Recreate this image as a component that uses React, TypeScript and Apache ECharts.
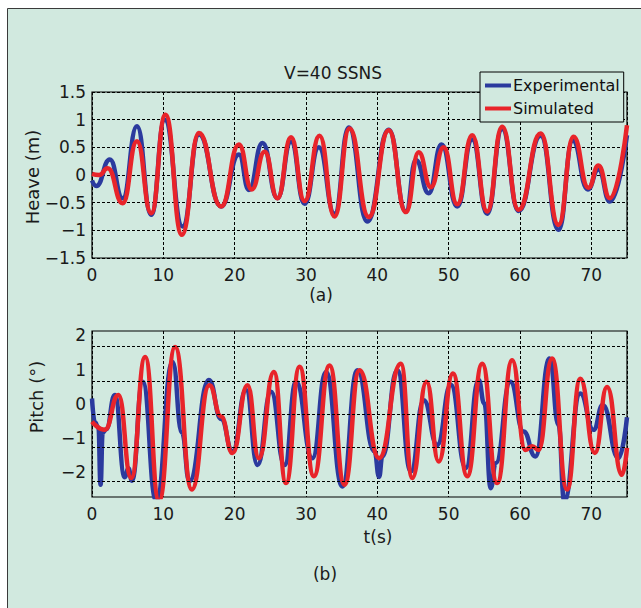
import React, { useEffect, useRef } from "react";
import * as echarts from "echarts";

// ---------- data ----------
const heaveExpT = [0, 0.6, 2.5, 4.3, 6.3, 8.3, 10.2, 12.7, 15.0, 18.1, 20.6, 22.0, 23.9, 26.0, 27.9, 29.8, 31.8, 34.0, 36.0, 38.6, 41.6, 44.0, 45.4, 47.2, 49.0, 51.2, 53.3, 55.4, 57.5, 59.8, 62.9, 65.4, 67.4, 69.5, 71.0, 72.6, 75];
const heaveExpV = [-0.1, -0.2, 0.28, -0.42, 0.88, -0.72, 1.0, -0.93, 0.73, -0.57, 0.37, -0.27, 0.58, -0.42, 0.6, -0.52, 0.5, -0.7, 0.86, -0.84, 0.82, -0.66, 0.27, -0.33, 0.55, -0.57, 0.64, -0.7, 0.83, -0.65, 0.71, -0.99, 0.62, -0.26, 0.1, -0.48, 0.72];

const heaveSimT = [0, 1.0, 2.2, 4.3, 6.3, 8.3, 10.3, 12.6, 15.0, 18.1, 20.6, 22.4, 24.2, 26.0, 27.9, 29.8, 31.9, 34.0, 36.1, 38.8, 41.6, 44.0, 45.8, 47.5, 49.3, 51.2, 53.3, 55.4, 57.5, 59.8, 62.9, 65.4, 67.5, 69.6, 71.0, 72.6, 75];
const heaveSimV = [0.02, 0.0, 0.12, -0.51, 0.61, -0.69, 1.09, -1.08, 0.76, -0.57, 0.55, -0.26, 0.42, -0.42, 0.68, -0.47, 0.71, -0.75, 0.84, -0.76, 0.81, -0.67, 0.41, -0.22, 0.5, -0.53, 0.72, -0.66, 0.87, -0.63, 0.75, -0.9, 0.69, -0.23, 0.17, -0.42, 0.9];

const pitchExpT = [0, 0.4, 0.9, 1.2, 1.5, 2.0, 3.2, 4.6, 5.1, 5.6, 7.1, 9.0, 11.3, 12.6, 13.65, 16.4, 18.1, 19.7, 21.6, 23.2, 25.1, 27.0, 28.6, 30.9, 32.8, 35.1, 37.2, 39.6, 40.25, 40.7, 42.8, 44.7, 46.5, 48.4, 50.3, 52.4, 54.2, 55.0, 55.9, 56.6, 58.65, 60.5, 62.15, 64.15, 65.4, 66.2, 68.45, 70.3, 71.6, 73.8, 75];
const pitchExpV = [0.15, -0.55, -0.7, -2.38, -0.85, -0.75, 0.25, -2.16, -1.9, -2.26, 0.64, -2.85, 1.22, -0.85, -2.28, 0.69, -0.45, -1.4, 0.4, -1.8, 0.35, -1.8, 0.64, -1.6, 0.93, -2.43, 0.98, -1.4, -2.15, -1.55, 0.98, -1.99, 0.1, -1.21, 0.55, -1.89, 0.69, 0.0, -2.48, -1.75, 0.64, -0.82, -1.55, 1.32, -0.63, -2.85, 0.3, -0.77, -0.04, -1.6, -0.4];

const pitchSimT = [0, 1.8, 3.7, 5.5, 7.45, 9.4, 11.65, 14.0, 16.45, 18.1, 19.7, 21.8, 23.4, 25.5, 27.2, 29.1, 31.1, 33.3, 35.4, 37.5, 40.25, 43.3, 44.9, 46.9, 48.6, 50.6, 52.6, 54.7, 56.8, 58.9, 60.75, 61.7, 62.6, 64.5, 66.6, 68.45, 70.5, 72.2, 74.3, 75];
const pitchSimV = [-0.53, -0.77, 0.25, -2.18, 1.37, -2.85, 1.66, -2.52, 0.54, -0.38, -1.45, 0.54, -1.6, 0.93, -2.33, 1.08, -2.13, 1.12, -2.38, 0.98, -1.6, 1.17, -2.18, 0.64, -1.7, 0.88, -2.13, 1.17, -2.33, 1.27, -1.36, -1.25, -1.36, 1.32, -2.52, 0.73, -1.45, 0.49, -2.09, -1.3];

// dashed grid lines of the pitch panel (drawn offset from its tick labels in the reference)
const pitchGridLines = [1.68, 0.66, -0.32, -1.27, -2.27];

const seriesNames = ["Experimental", "Simulated"];
const titleText = "V=40 SSNS";
const heaveLabel = "Heave (m)";
const pitchLabel = "Pitch (°)";
const timeLabel = "t(s)";
const panelA = "(a)";
const panelB = "(b)";

// ---------- styling ----------
const BLUE = "#2b3a9e";
const RED = "#e8242a";
const MINT = "#d1e9df";
const FONT = "DejaVu Sans";
const GRID_DASH = [3, 2];

const zip = (t: number[], v: number[]) => t.map((x, i) => [x, v[i]]);
const fmtNum = (v: number) => {
  const r = Math.round(v * 100) / 100;
  return String(r).replace("-", "\u2212");
};

export default function App() {
  const ref = useRef<HTMLDivElement>(null);
  useEffect(() => {
    if (!ref.current) return;
    const chart = echarts.init(ref.current, undefined, { renderer: "svg" });
    const axisLabelStyle = { color: "#1a1a1a", fontSize: 17, fontFamily: FONT };
    const splitDashed = { show: true, lineStyle: { color: "#000", type: GRID_DASH, width: 1 } };
    const lineCommon = {
      type: "line" as const,
      symbol: "none",
      showSymbol: false,
      smooth: 0.5,
      smoothMonotone: "x" as const,
      clip: true,
    };
    chart.setOption({
      animation: false,
      backgroundColor: "#ffffff",
      textStyle: { fontFamily: FONT },
      graphic: [
        {
          type: "rect",
          z: -10,
          silent: true,
          shape: { x: 7.5, y: 8.5, width: 720, height: 720 },
          style: { fill: MINT, stroke: "#3a3a3a", lineWidth: 1 },
        },
        {
          type: "text", z: 10, x: 333, y: 73,
          style: { text: titleText, font: `17px ${FONT}`, fill: "#1a1a1a", align: "center", verticalAlign: "middle" },
        },
        {
          type: "text", z: 10, x: 32, y: 177, rotation: Math.PI / 2,
          style: { text: heaveLabel, font: `18px ${FONT}`, fill: "#1a1a1a", align: "center", verticalAlign: "middle" },
        },
        {
          type: "text", z: 10, x: 36, y: 397, rotation: Math.PI / 2,
          style: { text: pitchLabel, font: `18px ${FONT}`, fill: "#1a1a1a", align: "center", verticalAlign: "middle" },
        },
        {
          type: "text", z: 10, x: 321, y: 295,
          style: { text: panelA, font: `17px ${FONT}`, fill: "#1a1a1a", align: "center", verticalAlign: "middle" },
        },
        {
          type: "text", z: 10, x: 378, y: 537,
          style: { text: timeLabel, font: `17px ${FONT}`, fill: "#1a1a1a", align: "center", verticalAlign: "middle" },
        },
        {
          type: "text", z: 10, x: 325, y: 574,
          style: { text: panelB, font: `17px ${FONT}`, fill: "#1a1a1a", align: "center", verticalAlign: "middle" },
        },
      ],
      legend: {
        data: seriesNames.map((n) => ({ name: n, icon: "rect" })),
        orient: "vertical",
        left: 480,
        top: 72,
        itemWidth: 26,
        itemHeight: 4,
        itemGap: 4,
        padding: [4, 4, 4, 5],
        backgroundColor: MINT,
        borderColor: "#000",
        borderWidth: 1,
        z: 20,
        textStyle: { fontSize: 16, fontFamily: FONT, color: "#111", padding: [0, 0, 0, -3], lineHeight: 19 },
      },
      grid: [
        { left: 92, top: 92, width: 535, height: 166, show: true, borderColor: "#000", borderWidth: 1.2, backgroundColor: "transparent" },
        { left: 92, top: 331, width: 535, height: 166, show: true, borderColor: "#000", borderWidth: 1.2, backgroundColor: "transparent" },
      ],
      xAxis: [0, 1].map((g) => ({
        type: "value",
        gridIndex: g,
        min: 0,
        max: 75,
        interval: 10,
        axisLine: { show: false },
        axisTick: { show: false },
        axisLabel: {
          ...axisLabelStyle,
          margin: 8,
          showMaxLabel: false,
          formatter: (v: number) => (Math.abs(v % 10) < 1e-6 ? fmtNum(v) : ""),
        },
        splitLine: splitDashed,
      })),
      yAxis: [
        {
          type: "value",
          gridIndex: 0,
          min: -1.5,
          max: 1.5,
          interval: 0.5,
          axisLine: { show: false },
          axisTick: { show: false },
          axisLabel: { ...axisLabelStyle, margin: 6, formatter: (v: number) => fmtNum(v) },
          splitLine: splitDashed,
        },
        {
          type: "value",
          gridIndex: 1,
          min: -2.74,
          max: 2.13,
          splitNumber: 5,
          axisLine: { show: false },
          axisTick: { show: false },
          axisLabel: {
            ...axisLabelStyle,
            margin: 6,
            showMinLabel: false,
            showMaxLabel: false,
            formatter: (v: number) => (Math.abs(v - Math.round(v)) < 1e-6 ? fmtNum(Math.round(v)) : ""),
          },
          splitLine: { show: false },
        },
      ],
      series: [
        {
          ...lineCommon,
          name: "__grid",
          xAxisIndex: 1,
          yAxisIndex: 1,
          data: [],
          z: 1,
          markLine: {
            silent: true,
            symbol: ["none", "none"],
            label: { show: false },
            lineStyle: { color: "#000", type: GRID_DASH, width: 1 },
            data: pitchGridLines.map((v) => ({ yAxis: v })),
          },
        },
        {
          ...lineCommon,
          name: seriesNames[0],
          xAxisIndex: 0,
          yAxisIndex: 0,
          data: zip(heaveExpT, heaveExpV),
          lineStyle: { color: BLUE, width: 4.5 },
          itemStyle: { color: BLUE },
          z: 3,
        },
        {
          ...lineCommon,
          name: seriesNames[1],
          xAxisIndex: 0,
          yAxisIndex: 0,
          data: zip(heaveSimT, heaveSimV),
          lineStyle: { color: RED, width: 4.5 },
          itemStyle: { color: RED },
          z: 4,
        },
        {
          ...lineCommon,
          name: seriesNames[0],
          xAxisIndex: 1,
          yAxisIndex: 1,
          data: zip(pitchExpT, pitchExpV),
          lineStyle: { color: BLUE, width: 4.5 },
          itemStyle: { color: BLUE },
          z: 3,
        },
        {
          ...lineCommon,
          name: seriesNames[1],
          xAxisIndex: 1,
          yAxisIndex: 1,
          data: zip(pitchSimT, pitchSimV),
          lineStyle: { color: RED, width: 4.5 },
          itemStyle: { color: RED },
          z: 4,
        },
      ],
    });
    return () => chart.dispose();
  }, []);
  return (
    <div
      ref={ref}
      style={{ position: "absolute", left: 0, top: 0, width: 641, height: 608 }}
    />
  );
}
